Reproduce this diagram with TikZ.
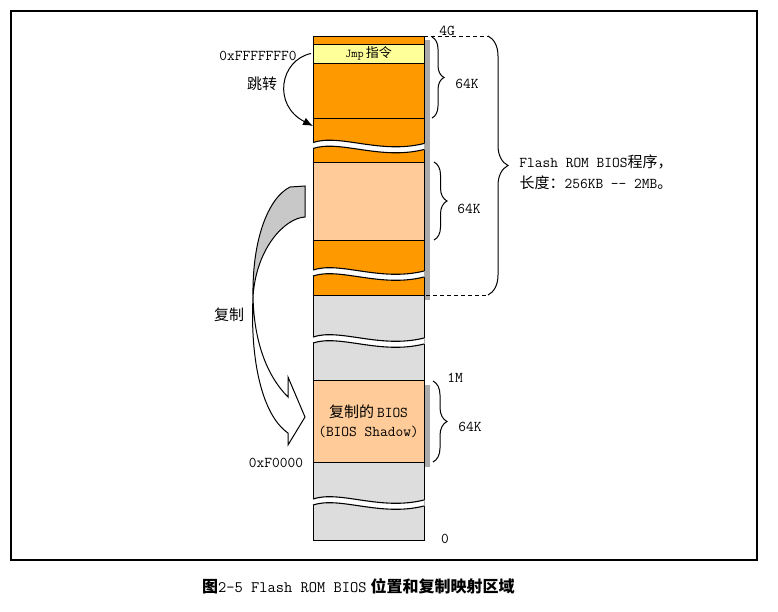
\documentclass[tikz,border=0pt]{standalone}
\usepackage{fontspec}
\newfontfamily\cjk{Noto Sans CJK SC}
\usetikzlibrary{decorations.pathreplacing,arrows.meta}
\definecolor{orangeC}{HTML}{FF9900}
\definecolor{peachC}{HTML}{FFCC99}
\definecolor{yellowC}{HTML}{FFFF99}
\definecolor{greyC}{HTML}{DDDDDD}
\definecolor{shadowC}{HTML}{AAAAAA}
\definecolor{arrowC}{HTML}{C8C8C8}
\newcommand\zh[1]{{\cjk #1}}
\newcommand\brkwave[1]{%
  \fill[white] (312.4,{#1-4}) .. controls (340,{#1-13}) and (380,{#1+8}) .. (424.6,{#1-3})
     -- (424.6,{#1+3}) .. controls (380,{#1+14}) and (340,{#1-7}) .. (312.4,{#1+2}) -- cycle;
  \draw[line width=1.1pt] (313,{#1-4}) .. controls (340,{#1-13}) and (380,{#1+8}) .. (424,{#1-3});
  \draw[line width=1.1pt] (313,{#1+2}) .. controls (340,{#1-7}) and (380,{#1+14}) .. (424,{#1+3});
}
\begin{document}
\begin{tikzpicture}[x=1pt,y=-1pt,
  font=\ttfamily\fontsize{15pt}{17pt}\selectfont,
  seg/.style={draw, line width=1pt, minimum width=111pt, inner sep=0pt, outer sep=0pt},
  lbl/.style={inner sep=0pt},
  brc/.style={decorate, line width=1pt},
  dsh/.style={line width=1pt, dash pattern=on 4pt off 3pt}]
\useasboundingbox (0,0) rectangle (778,611);
% frame
\draw[line width=2pt] (11,11) rectangle (757,560);
% shadows
\fill[shadowC] (424,40) rectangle (430,300);
\fill[shadowC] (424,385) rectangle (430,467);
% column
\node[seg, fill=orangeC, minimum height=8pt]  (s1)  at (368.5,40) {};
\node[seg, fill=yellowC, minimum height=19pt] (jmp) at (368.5,53.5)
  {\fontsize{12pt}{14pt}\selectfont Jmp\hspace{2pt}\zh{\fontsize{13pt}{14pt}\selectfont 指令}};
\node[seg, fill=orangeC, minimum height=55pt] (s2)  at (368.5,90.5) {};
\node[seg, fill=orangeC, minimum height=44pt] (s3)  at (368.5,140) {};
\node[seg, fill=peachC,  minimum height=78pt] (s4)  at (368.5,201) {};
\node[seg, fill=orangeC, minimum height=55pt] (s5)  at (368.5,267.5) {};
\node[seg, fill=greyC,   minimum height=85pt] (s6)  at (368.5,337.5) {};
\node[seg, fill=peachC,  minimum height=82pt, align=center] (s7) at (368.5,421)
  {\zh{复制的}\hspace{3pt}BIOS\\[2pt](BIOS Shadow)};
\node[seg, fill=greyC,   minimum height=78pt] (s8)  at (368.5,501) {};
\brkwave{146.5}
\brkwave{274}
\brkwave{341}
\brkwave{503}
% dashed lines and big brace
\coordinate (bt) at (488,36);
\coordinate (bb) at (488,295);
\draw[dsh] (s1.north east) -- (bt);
\draw[dsh] (s5.south east) ++(2,0) -- (bb);
\draw[brc, decoration={brace, amplitude=20pt}] (bt) -- (bb);
\node[lbl, fill=white, inner xsep=1pt] (g4) at (447,31) {4G};
\node[lbl, align=center] (flash) at (596,172.5)
  {Flash ROM BIOS\zh{程序，}\\[4pt]\zh{长度：}256KB -{}- 2MB\zh{。}};
% small braces
\draw[brc, decoration={brace, amplitude=12pt}] (432,37) -- (432,118);
\node[lbl] (k1) at (467,84) {64K};
\draw[brc, decoration={brace, amplitude=13pt}] (434,162) -- (434,240);
\node[lbl] (k2) at (469,209) {64K};
\draw[brc, decoration={brace, amplitude=14pt}] (433,381) -- (433,462);
\node[lbl] (k3) at (470,427) {64K};
\node[lbl] (m1) at (455,378) {1M};
\node[lbl] (z0) at (445,539) {0};
% left labels
\node[lbl] (ffff) at (258,56) {0xFFFFFFF0};
\node[lbl] (tz) at (262,84) {\zh{跳转}};
\node[lbl] (fz) at (229,315) {\zh{复制}};
\node[lbl] (f0) at (276,463) {0xF0000};
% jump arrow
\draw[line width=1pt, -{Latex[length=10pt,width=8pt]}]
  ([xshift=-2pt]jmp.west) .. controls (280,60) and (272,105) .. ([yshift=-8pt]s2.south west);
% copy arrow: grey back part
\draw[line width=1pt, fill=arrowC]
  (305,186) -- (305,217) .. controls (285,218) and (256,248) .. (253,297)
  .. controls (252,240) and (268,198) .. (290,187) -- cycle;
% white front part with head
\draw[line width=1pt, fill=white]
  (253,297) .. controls (254,340) and (266,375) .. (288,397)
  -- (288,377) -- (305,417) -- (288,445) -- (288,433)
  .. controls (262,415) and (250,360) .. (253,297) -- cycle;
% caption
\node[lbl, anchor=west] (cap) at (202,586)
  {\fontsize{16pt}{18pt}\selectfont\zh{\bfseries 图}2-5 Flash ROM BIOS\hspace{4pt}\zh{\bfseries 位置和复制映射区域}};
\end{tikzpicture}
\end{document}
